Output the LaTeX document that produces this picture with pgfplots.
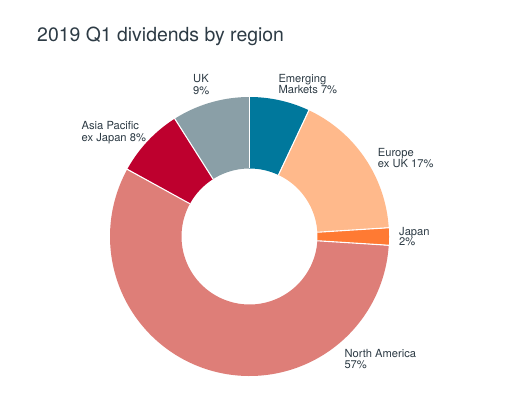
\documentclass[border=0pt]{standalone}
\usepackage{pgfplots}
\pgfplotsset{compat=1.18}
\usepackage{fontspec}
\setmainfont{TeX Gyre Heros}
\definecolor{cEM}{HTML}{00789C}
\definecolor{cEU}{HTML}{FFB98B}
\definecolor{cJP}{HTML}{FF7A33}
\definecolor{cNA}{HTML}{DE7E78}
\definecolor{cAP}{HTML}{BE002E}
\definecolor{cUK}{HTML}{8A9FA7}
\definecolor{cTxt}{HTML}{2D3B45}
\newcommand\cxx{249.5}
\newcommand\cyy{160.5}
\newcommand\rmid{103.75}
\newcommand\rin{68}
\newcommand\rout{139.5}
\begin{document}
\begin{tikzpicture}
\begin{axis}[width=510bp,height=397bp,scale only axis,xmin=0,xmax=510,ymin=0,ymax=397,hide axis,clip=false,
  every axis plot/.append style={line cap=butt}]
\path[draw=none, fill=white] (axis cs:0,0) rectangle (axis cs:510,397);
% shares (%): Emerging Markets 7, Europe ex UK 17, Japan 2, North America 57, Asia Pacific ex Japan 8, UK 9
% angle = 90 - 3.6 * cumulative share
\addplot[cEM, line width=71.5bp, domain=90:64.8, samples=30] ({\cxx+\rmid*cos(x)},{\cyy+\rmid*sin(x)});
\addplot[cEU, line width=71.5bp, domain=64.8:3.6, samples=60] ({\cxx+\rmid*cos(x)},{\cyy+\rmid*sin(x)});
\addplot[cJP, line width=71.5bp, domain=3.6:-3.6, samples=10] ({\cxx+\rmid*cos(x)},{\cyy+\rmid*sin(x)});
\addplot[cNA, line width=71.5bp, domain=-3.6:-208.8, samples=150] ({\cxx+\rmid*cos(x)},{\cyy+\rmid*sin(x)});
\addplot[cAP, line width=71.5bp, domain=-208.8:-237.6, samples=30] ({\cxx+\rmid*cos(x)},{\cyy+\rmid*sin(x)});
\addplot[cUK, line width=71.5bp, domain=-237.6:-270, samples=30] ({\cxx+\rmid*cos(x)},{\cyy+\rmid*sin(x)});
% separators
\foreach \a in {90,64.8,3.6,-3.6,-208.8,-237.6}{
  \addplot[white, line width=1.1bp, domain=\rin:\rout+1, samples=2] ({\cxx+x*cos(\a)},{\cyy+x*sin(\a)});
}
% title
\node[anchor=base west, inner sep=0, text=cTxt, font=\fontsize{19.5}{24}\selectfont] at (axis cs:37,{397-42}) {2019 Q1 dividends by region};
% labels
\tikzset{lab/.style={anchor=base west, inner sep=0, text=cTxt, font=\fontsize{11.2}{13}\selectfont}}
\node[lab] at (axis cs:193,{397-82.3}) {UK};
\node[lab] at (axis cs:193,{397-94.3}) {9\%};
\node[lab] at (axis cs:81.5,{397-129.5}) {Asia Pacific};
\node[lab] at (axis cs:81.5,{397-141.7}) {ex Japan 8\%};
\node[lab] at (axis cs:278.3,{397-83}) {Emerging};
\node[lab] at (axis cs:278.3,{397-93.5}) {Markets 7\%};
\node[lab] at (axis cs:377.7,{397-157}) {Europe};
\node[lab] at (axis cs:377.7,{397-168}) {ex UK 17\%};
\node[lab] at (axis cs:399,{397-235}) {Japan};
\node[lab] at (axis cs:399,{397-245.7}) {2\%};
\node[lab] at (axis cs:344.3,{397-357.5}) {North America};
\node[lab] at (axis cs:344.3,{397-368}) {57\%};
\end{axis}
\end{tikzpicture}
\end{document}
